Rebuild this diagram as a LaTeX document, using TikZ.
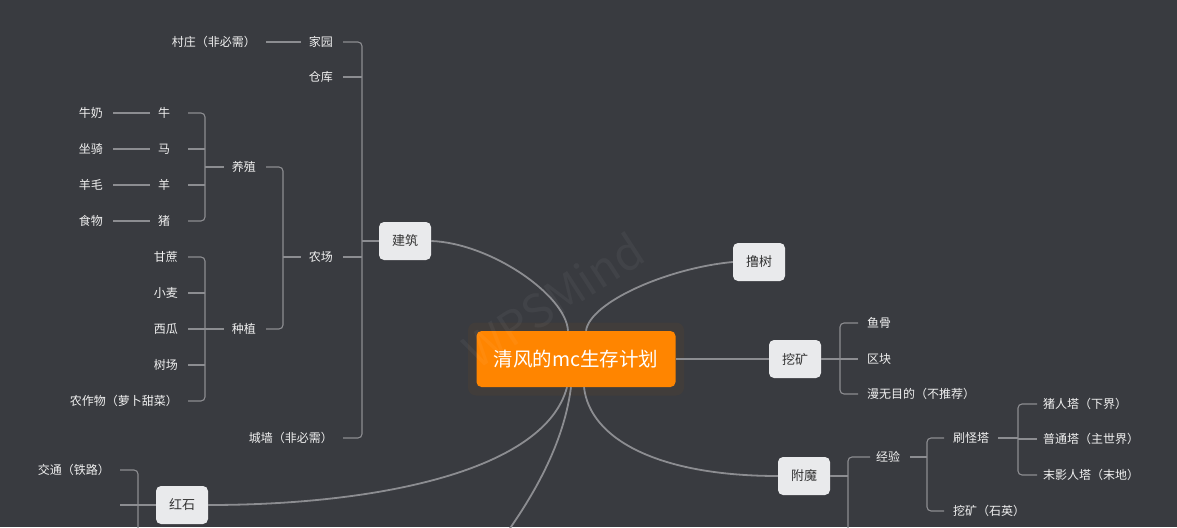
\documentclass[tikz,border=0pt]{standalone}
\usepackage{fontspec}
\setmainfont{Noto Sans CJK SC}
\definecolor{bg}{RGB}{57,59,64}
\definecolor{boxfill}{RGB}{233,234,236}
\definecolor{boxtext}{RGB}{51,51,51}
\definecolor{ln}{RGB}{140,141,145}
\definecolor{leaftext}{RGB}{240,240,240}
\definecolor{rootfill}{RGB}{255,133,0}
\definecolor{halo}{RGB}{65,61,59}
\tikzset{
  topic/.style={fill=boxfill, rounded corners=5pt, minimum width=52pt, minimum height=38pt,
    text=boxtext, font=\fontsize{13}{13}\selectfont, inner sep=0pt},
  leaf/.style={text=leaftext, font=\fontsize{12}{12}\selectfont, inner sep=0pt},
  lleaf/.style={leaf, anchor=east},
  rleaf/.style={leaf, anchor=west},
  mainln/.style={draw=ln, line width=1.8pt},
  br/.style={draw=ln, line width=1.1pt, rounded corners=4pt},
}
\begin{document}
\begin{tikzpicture}[x=1pt, y=-1pt]
\useasboundingbox (0,0) rectangle (1177,527);
\fill[bg] (0,0) rectangle (1177,527);
\clip (0,0) rectangle (1177,527);

% ---- main topics
\node[fill=halo, rounded corners=8pt, minimum width=216pt, minimum height=73pt, inner sep=0pt] (halo) at (576,359) {};
\node[fill=rootfill, rounded corners=5pt, minimum width=199pt, minimum height=56pt, text=white,
  font=\fontsize{19.5}{19.5}\selectfont, inner sep=0pt] (root) at (576,359) {清风的mc生存计划};
\node[topic] (jz) at (405,241) {建筑};
\node[topic] (lushu) at (759,262) {撸树};
\node[topic] (wakuang) at (795,359) {挖矿};
\node[topic] (fumo) at (804,476) {附魔};
\node[topic] (hongshi) at (182,505) {红石};

% ---- main connectors
\coordinate (offB) at (498,545);
\draw[mainln] (jz.east) .. controls (490,243) and (566,295) .. ([xshift=-8pt]root.north);
\draw[mainln] (lushu.west) .. controls (668,268) and (590,302) .. ([xshift=10pt]root.north);
\draw[mainln] (root.east) -- (wakuang.west);
\draw[mainln] (fumo.west) .. controls (660,476) and (590,440) .. ([xshift=8pt]root.south);
\draw[mainln] (hongshi.east) .. controls (380,505) and (545,470) .. ([xshift=-9pt]root.south);
\draw[mainln] ([xshift=-5pt]root.south) .. controls (566,425) and (550,475) .. (offB);

% ---- left: 建筑 subtree
\node[lleaf] (jiayuan) at (333,42) {家园};
\node[lleaf] (cangku) at (333,77) {仓库};
\node[lleaf] (nongchang) at (333,257) {农场};
\node[lleaf] (chengqiang) at (333,438) {城墙（非必需）};
\node[lleaf] (cunzhuang) at (256,42) {村庄（非必需）};
\node[lleaf] (yangzhi) at (256,167) {养殖};
\node[lleaf] (zhongzhi) at (256,329) {种植};
\node[leaf] (niu) at (164,113) {牛};
\node[leaf] (ma) at (164,149) {马};
\node[leaf] (yang) at (164,185) {羊};
\node[leaf] (zhu) at (164,221) {猪};
\node[lleaf] (niunai) at (103,113) {牛奶};
\node[lleaf] (zuoqi) at (103,149) {坐骑};
\node[lleaf] (yangmao) at (103,185) {羊毛};
\node[lleaf] (shiwu) at (103,221) {食物};
\node[lleaf] (ganzhe) at (178,257) {甘蔗};
\node[lleaf] (xiaomai) at (178,293) {小麦};
\node[lleaf] (xigua) at (178,329) {西瓜};
\node[lleaf] (shuchang) at (178,365) {树场};
\node[lleaf] (nongzuowu) at (178,401) {农作物（萝卜甜菜）};

\coordinate (bJZ) at (362,0);
\coordinate (bNC) at (283,0);
\coordinate (bYZ) at (205,0);
\coordinate (bZZ) at (205,0);

\draw[br] (jz.west) -- (jz.west -| bJZ);
\draw[br] ([xshift=10pt]jiayuan.east) -- (jiayuan.east -| bJZ) -- (chengqiang.east -| bJZ) -- ([xshift=10pt]chengqiang.east);
\draw[br] ([xshift=10pt]cangku.east) -- (cangku.east -| bJZ);
\draw[br] ([xshift=10pt]nongchang.east) -- (nongchang.east -| bJZ);
\draw[br] ([xshift=10pt]cunzhuang.east) -- ([xshift=-8pt]jiayuan.west);

\draw[br] ([xshift=-8pt]nongchang.west) -- (nongchang.west -| bNC);
\draw[br] ([xshift=10pt]yangzhi.east) -- (yangzhi.east -| bNC) -- (zhongzhi.east -| bNC) -- ([xshift=10pt]zhongzhi.east);

\draw[br] ([xshift=-8pt]yangzhi.west) -- (yangzhi.west -| bYZ);
\draw[br] ([xshift=18pt]niu.east) -- (niu.east -| bYZ) -- (zhu.east -| bYZ) -- ([xshift=18pt]zhu.east);
\draw[br] ([xshift=18pt]ma.east) -- (ma.east -| bYZ);
\draw[br] ([xshift=18pt]yang.east) -- (yang.east -| bYZ);
\draw[br] ([xshift=10pt]niunai.east) -- ([xshift=-8pt]niu.west);
\draw[br] ([xshift=10pt]zuoqi.east) -- ([xshift=-8pt]ma.west);
\draw[br] ([xshift=10pt]yangmao.east) -- ([xshift=-8pt]yang.west);
\draw[br] ([xshift=10pt]shiwu.east) -- ([xshift=-8pt]zhu.west);

\draw[br] ([xshift=-8pt]zhongzhi.west) -- (zhongzhi.west -| bZZ);
\draw[br] ([xshift=10pt]ganzhe.east) -- (ganzhe.east -| bZZ) -- (nongzuowu.east -| bZZ) -- ([xshift=10pt]nongzuowu.east);
\draw[br] ([xshift=10pt]xiaomai.east) -- (xiaomai.east -| bZZ);
\draw[br] ([xshift=10pt]xigua.east) -- (xigua.east -| bZZ);
\draw[br] ([xshift=10pt]shuchang.east) -- (shuchang.east -| bZZ);

% ---- left: 红石 subtree
\node[lleaf] (jiaotong) at (110,470) {交通（铁路）};
\coordinate (bHS) at (138,0);
\coordinate (offHS) at (138,545);
\coordinate (hsEmpty) at (120,505);
\draw[br] ([xshift=10pt]jiaotong.east) -- (jiaotong.east -| bHS) -- (offHS);
\draw[br] (hongshi.west) -- (hsEmpty);

% ---- right: 挖矿 subtree
\node[rleaf] (yugu) at (867,323) {鱼骨};
\node[rleaf] (qukuai) at (867,359) {区块};
\node[rleaf] (manwu) at (867,394) {漫无目的（不推荐）};
\coordinate (bWK) at (840,0);
\draw[br] (wakuang.east) -- (wakuang.east -| bWK);
\draw[br] ([xshift=-9pt]yugu.west) -- (yugu.west -| bWK) -- (manwu.west -| bWK) -- ([xshift=-9pt]manwu.west);
\draw[br] ([xshift=-9pt]qukuai.west) -- (qukuai.west -| bWK);

% ---- right: 附魔 subtree
\node[rleaf] (jingyan) at (876,457) {经验};
\node[rleaf] (shuaiguai) at (953,438) {刷怪塔};
\node[rleaf] (wakuangsy) at (953,511) {挖矿（石英）};
\node[rleaf] (zhuren) at (1043,404) {猪人塔（下界）};
\node[rleaf] (putong) at (1043,439) {普通塔（主世界）};
\node[rleaf] (moying) at (1043,475) {末影人塔（末地）};
\coordinate (bFM) at (848,0);
\coordinate (offFM) at (848,545);
\coordinate (bJY) at (927,0);
\coordinate (bSG) at (1018,0);
\draw[br] (fumo.east) -- (fumo.east -| bFM);
\draw[br] ([xshift=-6pt]jingyan.west) -- (jingyan.west -| bFM) -- (offFM);
\draw[br] ([xshift=10pt]jingyan.east) -- (jingyan.east -| bJY);
\draw[br] ([xshift=-9pt]shuaiguai.west) -- (shuaiguai.west -| bJY) -- (wakuangsy.west -| bJY) -- ([xshift=-9pt]wakuangsy.west);
\draw[br] ([xshift=9pt]shuaiguai.east) -- (shuaiguai.east -| bSG);
\draw[br] ([xshift=-6pt]zhuren.west) -- (zhuren.west -| bSG) -- (moying.west -| bSG) -- ([xshift=-6pt]moying.west);
\draw[br] ([xshift=-6pt]putong.west) -- (putong.west -| bSG);

% ---- watermark
\node[rotate=33, text=white, opacity=0.045, font=\fontsize{46}{46}\selectfont, inner sep=0pt] (wm) at (553,300) {WPSMind};
\end{tikzpicture}
\end{document}
